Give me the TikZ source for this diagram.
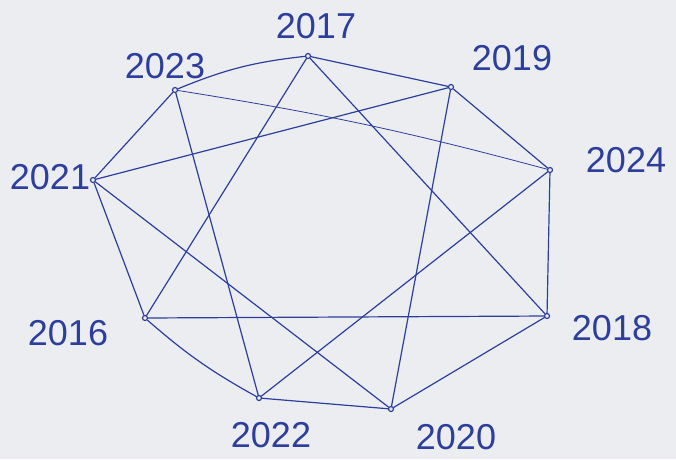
\documentclass[tikz,border=0pt]{standalone}
\usepackage{fontspec}
\setmainfont{Liberation Sans}
\definecolor{ink}{RGB}{45,62,155}
\definecolor{paper}{RGB}{236,237,241}
\begin{document}
\begin{tikzpicture}[x=1pt,y=-1pt,
  pt/.style={circle,draw=ink,line width=1.2pt,inner sep=0pt,minimum size=5pt},
  lab/.style={text=ink,font=\fontsize{36}{36}\selectfont,inner sep=0pt},
  edge/.style={draw=ink,line width=1.2pt,line cap=round}]
\fill[paper] (0,0) rectangle (676,459);
\useasboundingbox (0,0) rectangle (676,459);
% points
\node[pt] (a17) at (308,56) {};
\node[pt] (a19) at (451,87) {};
\node[pt] (a24) at (550,170) {};
\node[pt] (a18) at (547,316) {};
\node[pt] (a20) at (391,409) {};
\node[pt] (a22) at (259,398) {};
\node[pt] (a16) at (145,318) {};
\node[pt] (a21) at (93,180) {};
\node[pt] (a23) at (175,90) {};
% labels
\node[lab] (l17) at (316,26) {2017};
\node[lab] (l19) at (512,58) {2019};
\node[lab] (l24) at (626,160) {2024};
\node[lab] (l18) at (612,328) {2018};
\node[lab] (l20) at (456,437) {2020};
\node[lab] (l22) at (271,435) {2022};
\node[lab] (l16) at (68,333) {2016};
\node[lab] (l21) at (50,177) {2021};
\node[lab] (l23) at (165,66) {2023};
% edges
\draw[edge] (a23) to[bend left=8] (a17);
\draw[edge,line width=0.8pt] (a23) to[bend left=3] (a24);
\draw[edge] (a23) -- (a21);
\draw[edge] (a23) -- (a22);
\draw[edge] (a21) -- (a19);
\draw[edge] (a17) -- (a16);
\draw[edge] (a17) -- (a18);
\draw[edge] (a17) -- (a19);
\draw[edge] (a19) -- (a24);
\draw[edge] (a19) -- (a20);
\draw[edge] (a24) -- (a18);
\draw[edge] (a24) -- (a22);
\draw[edge] (a18) -- (a16);
\draw[edge] (a18) -- (a20);
\draw[edge] (a20) -- (a22);
\draw[edge] (a21) -- (a20);
\draw[edge] (a21) -- (a16);
\draw[edge] (a16) to[bend right=6] (a22);
\end{tikzpicture}
\end{document}
